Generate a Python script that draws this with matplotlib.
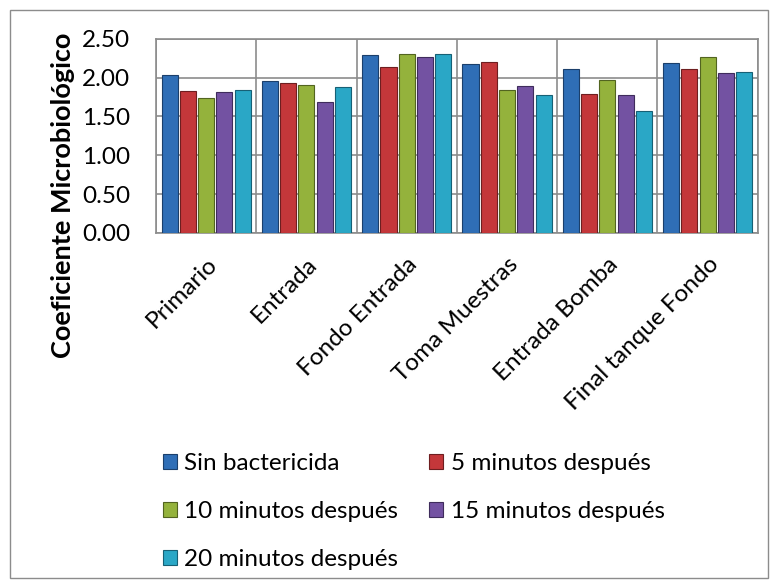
import numpy as np
import matplotlib
matplotlib.use("Agg")
import matplotlib.pyplot as plt
from matplotlib.patches import Rectangle, Patch

plt.rcParams['font.family'] = ['Lato', 'DejaVu Sans']

categories = ['Primario', 'Entrada', 'Fondo Entrada', 'Toma Muestras',
              'Entrada Bomba', 'Final tanque Fondo']
series_names = ['Sin bactericida', '5 minutos después', '10 minutos después',
                '15 minutos después', '20 minutos después']
sin_bactericida = [2.04, 1.95, 2.29, 2.18, 2.11, 2.19]
min5 = [1.83, 1.93, 2.14, 2.20, 1.79, 2.11]
min10 = [1.74, 1.91, 2.31, 1.84, 1.97, 2.27]
min15 = [1.82, 1.68, 2.27, 1.89, 1.77, 2.06]
min20 = [1.84, 1.88, 2.31, 1.77, 1.57, 2.07]
yticks = [0.0, 0.5, 1.0, 1.5, 2.0, 2.5]

series = [sin_bactericida, min5, min10, min15, min20]
colors = ['#2F6EB6', '#C4373A', '#94B23C', '#7352A2', '#2AA7C6']
edges = ['#1B3F6B', '#6E1E20', '#526420', '#3F2C5C', '#176075']

fs = 17.5

fig = plt.figure(figsize=(7.78, 5.88), dpi=100)
ax = fig.add_axes([0.2005, 0.604, 0.7735, 0.33])

x = np.arange(len(categories))
step = 0.182
width = 0.16
for i, (vals, c, e) in enumerate(zip(series, colors, edges)):
    ax.bar(x + (i - 2) * step, vals, width, color=c, edgecolor=e,
           linewidth=0.8, label=series_names[i], zorder=3)

ax.set_xlim(-0.5, len(categories) - 0.5)
ax.set_ylim(0, 2.5)
ax.set_yticks(yticks)
ax.set_yticklabels([f'{v:.2f}' for v in yticks], fontsize=fs)
ax.yaxis.grid(True, color='#8C8C8C', linewidth=1.2, zorder=0)
ax.set_xticks(np.arange(len(categories) + 1) - 0.5, minor=True)
ax.xaxis.grid(True, which='minor', color='#8C8C8C', linewidth=1.2, zorder=0)
ax.set_xticks(x)
ax.set_xticklabels(categories, rotation=45, ha='right', rotation_mode='anchor',
                   fontsize=fs)
ax.tick_params(axis='both', which='both', length=0)
ax.tick_params(axis='y', pad=18.7)
ax.tick_params(axis='x', pad=15)
for sp in ax.spines.values():
    sp.set_color('#8C8C8C')
    sp.set_linewidth(1.2)

ax.set_ylabel('Coeficiente Microbiológico', fontsize=19.5, fontweight='bold')
ax.yaxis.set_label_coords(-0.134, 0.196)

handles = [Patch(facecolor=c, edgecolor=e, linewidth=0.8)
           for c, e in zip(colors, edges)]
order = [0, 2, 4, 1, 3]
fig.legend([handles[k] for k in order], [series_names[k] for k in order],
           ncol=2, loc='upper left', bbox_to_anchor=(0.209, 0.229),
           frameon=False, fontsize=fs, handlelength=0.6, handleheight=0.6,
           handletextpad=0.3, columnspacing=1.25, labelspacing=1.1,
           borderaxespad=0, borderpad=0)

fig.patches.append(Rectangle((10 / 778, 10 / 588), 758 / 778, 568 / 588,
                             transform=fig.transFigure, fill=False,
                             edgecolor='#8C8C8C', linewidth=1.0))

fig.savefig('out.png', dpi=100)
